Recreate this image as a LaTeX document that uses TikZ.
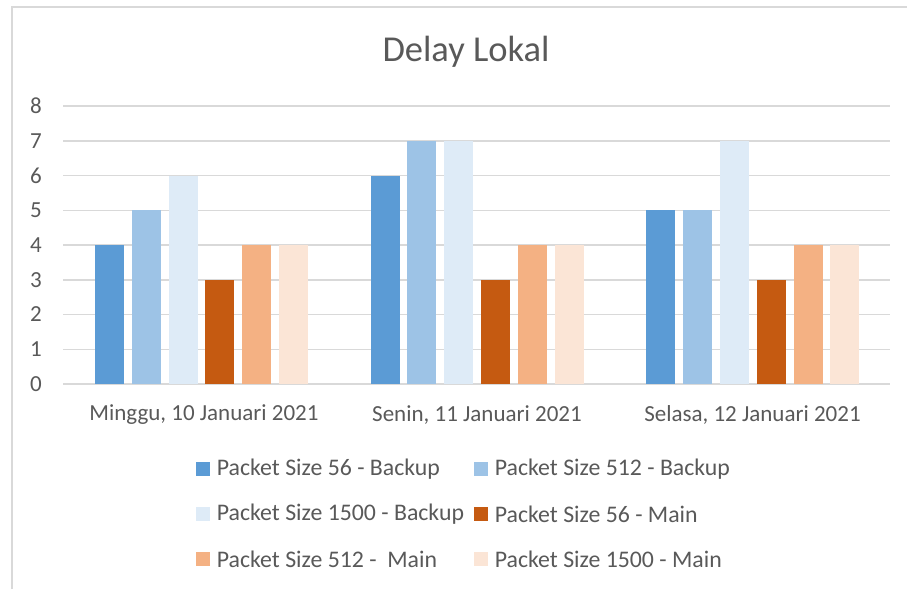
\documentclass[tikz,border=0pt]{standalone}
\usepackage{fontspec}
\setmainfont{Carlito}
\usetikzlibrary{positioning}

\definecolor{gridgray}{HTML}{D9D9D9}
\definecolor{textgray}{HTML}{595959}
\definecolor{bkA}{HTML}{5B9BD5}
\definecolor{bkB}{HTML}{9DC3E6}
\definecolor{bkC}{HTML}{DEEBF7}
\definecolor{mnA}{HTML}{C55A11}
\definecolor{mnB}{HTML}{F4B183}
\definecolor{mnC}{HTML}{FBE5D6}

\begin{document}
\begin{tikzpicture}[
    x=1pt, y=-1pt,
    lbl/.style={text=textgray, font=\fontsize{23}{28}\selectfont, inner sep=0pt},
    leg/.style={text=textgray, font=\fontsize{23.8}{28}\selectfont, inner sep=0pt},
    key/.style={minimum size=14pt, inner sep=0pt, draw=none},
    grid line/.style={gridgray, line width=1.5pt}
]
\useasboundingbox (0,0) rectangle (907,589);

% chart frame
\draw[gridgray, line width=1.2pt] (12,589) -- (12,7) -- (907,7);

\node[text=textgray, font=\fontsize{36.5}{44}\selectfont, inner sep=0pt] (title) at (466,52) {Delay Lokal};

% value axis and grid
\foreach \v in {0,...,8} {
    \draw[grid line] (63,{384-34.75*\v}) -- (890,{384-34.75*\v});
    \node[lbl] (tick\v) at (36,{384-34.75*\v}) {\v};
}

% bars, one group per day
\foreach \g/\vals in {0/{4/bkA,5/bkB,6/bkC,3/mnA,4/mnB,4/mnC},
                      1/{6/bkA,7/bkB,7/bkC,3/mnA,4/mnB,4/mnC},
                      2/{5/bkA,5/bkB,7/bkC,3/mnA,4/mnB,4/mnC}} {
    \foreach \v/\col [count=\i from 0] in \vals
        \fill[\col] ({95+275.67*\g+36.8*\i},384) rectangle ++(29,{-34.75*\v});
}

\node[lbl] (day1) at (204,415) {Minggu, 10 Januari 2021};
\node[lbl] (day2) at (477,415) {Senin, 11 Januari 2021};
\node[lbl] (day3) at (752.5,415) {Selasa, 12 Januari 2021};

% legend
\node[key, fill=bkA] (key1) at (203,469) {};
\node[leg, right=6.5pt of key1] (leg1) {Packet Size 56 - Backup};
\node[key, fill=bkB] (key2) at (481,469) {};
\node[leg, right=6.5pt of key2] (leg2) {Packet Size 512 - Backup};
\node[key, fill=bkC] (key3) at (203,514) {};
\node[leg, right=6.5pt of key3] (leg3) {Packet Size 1500 - Backup};
\node[key, fill=mnA] (key4) at (481,514) {};
\node[leg, right=6.5pt of key4] (leg4) {Packet Size 56 - Main};
\node[key, fill=mnB] (key5) at (203,559) {};
\node[leg, right=6.5pt of key5] (leg5) {Packet Size 512 - \ Main};
\node[key, fill=mnC] (key6) at (481,559) {};
\node[leg, right=6.5pt of key6] (leg6) {Packet Size 1500 - Main};
\end{tikzpicture}
\end{document}
